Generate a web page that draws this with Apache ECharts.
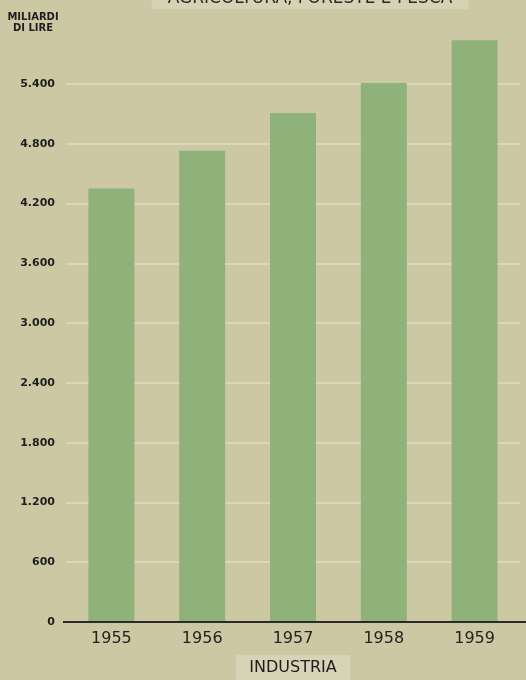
<!DOCTYPE html>
<html><head><meta charset="utf-8">
<script src="https://cdn.jsdelivr.net/npm/echarts@6/dist/echarts.min.js"></script>
<style>html,body{margin:0;padding:0;background:#ccc8a4;}#c{width:526px;height:680px;}</style>
</head><body><div id="c"></div>
<script>
const categories = ['1955', '1956', '1957', '1958', '1959'];
const industria = [4350, 4730, 5110, 5410, 5840];
const yTicks = [0, 600, 1200, 1800, 2400, 3000, 3600, 4200, 4800, 5400];
const chartTitle = 'AGRICOLTURA, FORESTE E PESCA';
const unitLabel = 'MILIARDI\nDI LIRE';
const seriesName = 'INDUSTRIA';

const chart = echarts.init(document.getElementById('c'));
chart.setOption({
  backgroundColor: '#ccc8a4',
  animation: false,
  title: {
    text: chartTitle, left: 294, textAlign: 'center', top: -10,
    backgroundColor: '#d6d3b4', padding: [0, 16, 2, 16],
    textStyle: { fontFamily: 'DejaVu Sans', fontSize: 17, color: '#2a2a2a', fontWeight: 'normal' }
  },
  graphic: [
    { type: 'text', x: 33, y: 12, style: { text: unitLabel, font: 'bold 10px "DejaVu Sans"', fill: '#1e1e1e', textAlign: 'center', lineHeight: 11 } },
    { type: 'rect', shape: { x: 236, y: 655, width: 114, height: 25 }, style: { fill: '#d6d3b6' } },
    { type: 'text', x: 293, y: 668, style: { text: seriesName, font: '16px "DejaVu Sans"', fill: '#1e1e1e', textAlign: 'center', textVerticalAlign: 'middle' } }
  ],
  grid: { left: 66, right: 6, top: 84, bottom: 58 },
  xAxis: {
    type: 'category', data: categories,
    axisLine: { show: false }, axisTick: { show: false },
    axisLabel: { fontFamily: 'DejaVu Sans', fontSize: 16, color: '#222', margin: 9 }
  },
  yAxis: {
    type: 'value', min: 0, max: 5400, interval: 600,
    axisLine: { show: false }, axisTick: { show: false },
    splitLine: { lineStyle: { color: '#dad7bc', width: 2 } },
    axisLabel: {
      fontFamily: 'DejaVu Sans', fontWeight: 'bold', fontSize: 11, color: '#1e1e1e', margin: 11,
      formatter: v => v === 0 ? '0' : v.toLocaleString('it-IT').replace(',', '.')
    }
  },
  series: [
    { name: seriesName, type: 'bar', data: industria, barWidth: 46, clip: false, itemStyle: { color: '#8fb27a' } },
    { type: 'line', data: [], markLine: { silent: true, symbol: 'none', label: { show: false },
      lineStyle: { color: '#2a2a2a', width: 2, type: 'solid' }, data: [[{ x: 63, yAxis: 0 }, { x: 526, yAxis: 0 }]] } }
  ]
});
</script></body></html>
